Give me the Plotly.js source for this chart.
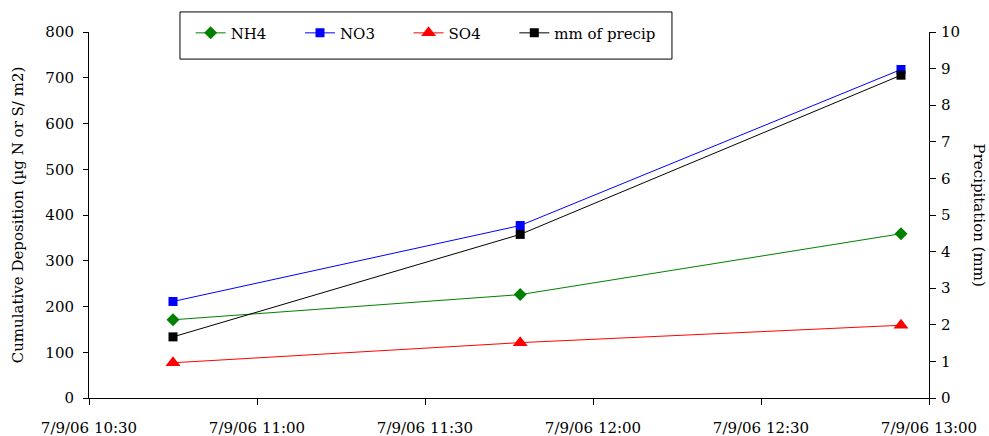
<!DOCTYPE html>
<html>
<head>
<meta charset="utf-8">
<script src="https://cdn.plot.ly/plotly-3.0.1.min.js"></script>
<style>
  html, body { margin: 0; padding: 0; background: #fff; }
  #chart { width: 989px; height: 436px; }
</style>
</head>
<body>
<div id="chart"></div>
<script>
// sample times
var times = ['2006-07-09 10:45', '2006-07-09 11:47', '2006-07-09 12:55'];

// cumulative deposition, ug N or S / m2
var nh4 = [171, 226, 359];
var no3 = [211, 377, 718];
var so4 = [77, 121, 159];

// cumulative precipitation, mm
var precip = [1.67, 4.47, 8.82];

var tickVals = ['2006-07-09 10:30', '2006-07-09 11:00', '2006-07-09 11:30',
                '2006-07-09 12:00', '2006-07-09 12:30', '2006-07-09 13:00'];
var tickText = ['7/9/06 10:30', '7/9/06 11:00', '7/9/06 11:30',
                '7/9/06 12:00', '7/9/06 12:30', '7/9/06 13:00'];

var fnt = 'DejaVu Serif, serif';
var pad = '\u00a0\u00a0\u00a0\u00a0\u00a0\u00a0';  // spacing between legend items

function mkTrace(name, y, color, symbol, size, axis) {
  return {
    type: 'scatter',
    mode: 'lines+markers',
    name: name,
    x: times,
    y: y,
    yaxis: axis,
    line: { color: color, width: 1 },
    marker: { color: color, symbol: symbol, size: size }
  };
}

var data = [
  mkTrace('NH4' + pad, nh4, '#008000', 'diamond', 10, 'y'),
  mkTrace('NO3' + pad, no3, '#0000ff', 'square', 9, 'y'),
  mkTrace('SO4' + pad, so4, '#ff0000', 'triangle-up', 13, 'y'),
  mkTrace('mm of precip', precip, '#000000', 'square', 9, 'y2')
];

var layout = {
  width: 989,
  height: 436,
  font: { family: fnt, size: 15, color: '#000' },
  paper_bgcolor: '#fff',
  plot_bgcolor: '#fff',
  margin: { l: 89, r: 60, t: 32, b: 38, pad: 0 },
  showlegend: true,
  legend: {
    orientation: 'h',
    x: 0.121, xanchor: 'left',
    y: 0.997, yanchor: 'middle',
    borderwidth: 0,
    bgcolor: 'rgba(0,0,0,0)',
    font: { family: fnt, size: 15 }
  },
  shapes: [{
    type: 'rect', xref: 'paper', yref: 'paper',
    x0: 0.1083, x1: 0.694, y0: 0.926, y1: 1.0548,
    line: { color: '#000', width: 1 },
    fillcolor: '#fff',
    layer: 'above'
  }],
  xaxis: {
    type: 'date',
    range: ['2006-07-09 10:30', '2006-07-09 13:00'],
    tickvals: tickVals,
    ticktext: tickText,
    showgrid: false,
    zeroline: false,
    showline: true,
    linecolor: '#000',
    linewidth: 1,
    ticks: 'outside',
    ticklen: 6,
    tickcolor: '#000',
    ticklabelstandoff: 10
  },
  yaxis: {
    range: [0, 800],
    dtick: 100,
    showgrid: false,
    zeroline: false,
    showline: true,
    linecolor: '#000',
    ticks: 'outside',
    ticklen: 5,
    tickcolor: '#000',
    ticklabelstandoff: 6,
    title: { text: 'Cumulative Deposition (µg N or S/ m2)', standoff: 18, font: { family: fnt, size: 15 } }
  },
  yaxis2: {
    overlaying: 'y',
    side: 'right',
    range: [0, 10],
    dtick: 1,
    showgrid: false,
    zeroline: false,
    showline: true,
    linecolor: '#000',
    ticks: 'outside',
    ticklen: 6,
    tickcolor: '#000',
    ticklabelstandoff: 2
  },
  // inside half of the crossing ticks on the right axis
  yaxis3: {
    overlaying: 'y',
    side: 'right',
    range: [0, 10],
    dtick: 1,
    showgrid: false,
    zeroline: false,
    showline: false,
    showticklabels: false,
    ticks: 'inside',
    ticklen: 6,
    tickcolor: '#000'
  },
  annotations: [{
    text: 'Precipitation (mm)',
    xref: 'paper', yref: 'paper',
    x: 1.06, y: 0.5,
    xanchor: 'center', yanchor: 'middle',
    textangle: 90,
    showarrow: false,
    font: { family: fnt, size: 15 }
  }]
};

Plotly.newPlot('chart', data, layout, { displayModeBar: false });
</script>
</body>
</html>
